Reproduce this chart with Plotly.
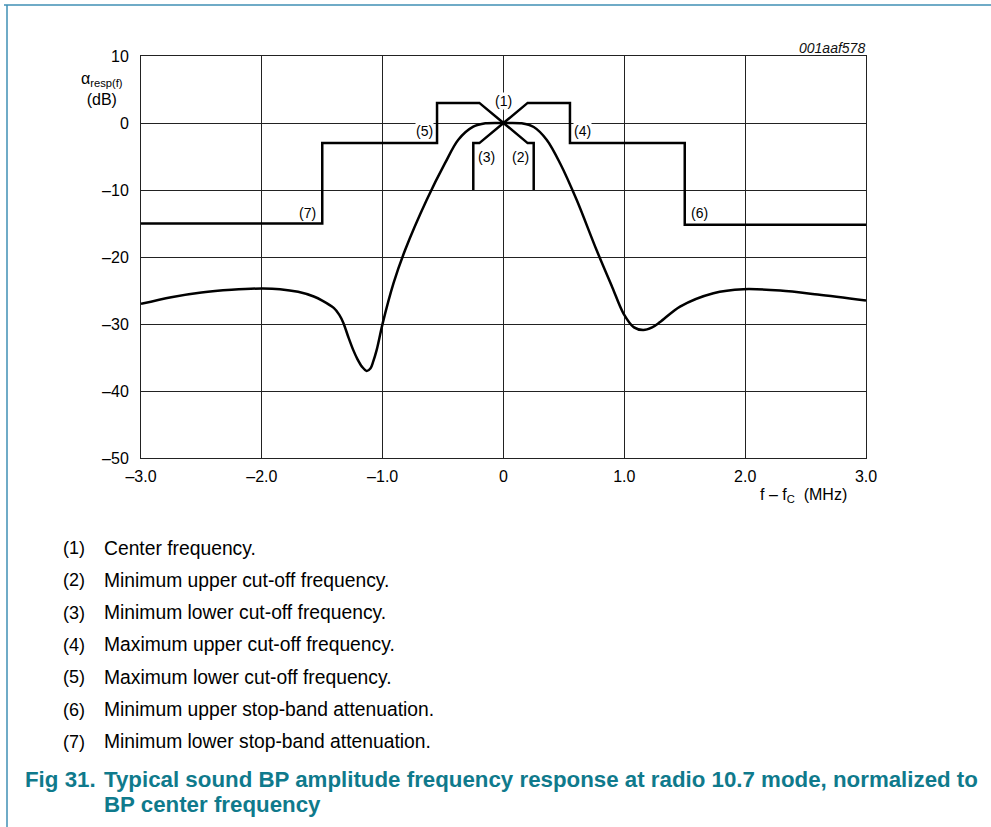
import plotly.graph_objects as go

# ---- data ----
resp_f = [-3.0, -2.75, -2.5, -2.25, -2.0, -1.85, -1.7, -1.57, -1.5, -1.405, -1.36, -1.326,
          -1.285, -1.243, -1.21, -1.17, -1.132, -1.10, -1.08, -1.05, -1.02, -1.0, -0.91,
          -0.815, -0.636, -0.484, -0.374, -0.25, -0.15, 0.0, 0.15, 0.25, 0.357, 0.468, 0.606,
          0.771, 0.9, 0.992, 1.08, 1.157, 1.23, 1.296, 1.461, 1.737, 1.985, 2.29, 2.6, 3.0]
resp_db = [-27.0, -26.0, -25.3, -24.9, -24.7, -24.8, -25.2, -25.9, -26.5, -27.6, -28.6, -29.8,
           -31.9, -33.9, -35.2, -36.4, -37.0, -36.6, -35.7, -33.9, -31.5, -29.9, -23.9,
           -19.0, -11.5, -6.0, -2.5, -0.55, -0.05, 0.0, -0.05, -0.6, -2.5, -6.0, -11.5,
           -19.0, -24.5, -28.4, -30.5, -30.9, -30.5, -29.7, -27.4, -25.4, -24.8, -25.0, -25.6, -26.5]

maskA_f = [-3.0, -1.5, -1.5, -0.55, -0.55, -0.2, 0.0, 0.2, 0.25, 0.25]
maskA_db = [-15.0, -15.0, -3.0, -3.0, 3.0, 3.0, 0.0, -3.0, -3.0, -10.0]
maskB_f = [3.0, 1.5, 1.5, 0.55, 0.55, 0.2, 0.0, -0.2, -0.25, -0.25]
maskB_db = [-15.2, -15.2, -3.0, -3.0, 3.0, 3.0, 0.0, -3.0, -3.0, -10.0]

x_ticks = [-3, -2, -1, 0, 1, 2, 3]
x_ticktext = ["–3.0", "–2.0", "–1.0", "0", "1.0", "2.0", "3.0"]
y_ticks = [10, 0, -10, -20, -30, -40, -50]
y_ticktext = ["10", "0", "–10", "–20", "–30", "–40", "–50"]

marker_labels = ["(1)", "(2)", "(3)", "(4)", "(5)", "(6)", "(7)"]
marker_f = [0.0, 0.14, -0.14, 0.65, -0.65, 1.62, -1.62]
marker_db = [3.3, -5.0, -5.0, -1.2, -1.2, -13.4, -13.4]

legend_text = ["Center frequency.",
               "Minimum upper cut-off frequency.",
               "Minimum lower cut-off frequency.",
               "Maximum upper cut-off frequency.",
               "Maximum lower cut-off frequency.",
               "Minimum upper stop-band attenuation.",
               "Minimum lower stop-band attenuation."]

FONT = "Arial, Liberation Sans, Helvetica, sans-serif"
TEAL = "#0f7a8c"

fig = go.Figure()
fig.add_trace(go.Scatter(x=maskA_f, y=maskA_db, mode="lines",
                         line=dict(color="black", width=2.5), hoverinfo="skip"))
fig.add_trace(go.Scatter(x=maskB_f, y=maskB_db, mode="lines",
                         line=dict(color="black", width=2.5), hoverinfo="skip"))
fig.add_trace(go.Scatter(x=resp_f, y=resp_db, mode="lines",
                         line=dict(color="black", width=2.5, shape="spline", smoothing=0.9),
                         hoverinfo="skip"))

# plot area pixel geometry
L, R, T, B = 141, 866, 56, 458
W, H = 991, 827

def px(x):
    return (x - L) / (R - L)

def py(y):
    return (B - y) / (B - T)

ann = []
for lab, f, d in zip(marker_labels, marker_f, marker_db):
    ann.append(dict(x=f, y=d, xref="x", yref="y", text=lab, showarrow=False,
                    xanchor="center", yanchor="middle",
                    font=dict(size=14, color="black", family=FONT),
                    bgcolor="white", borderpad=0))

ann.append(dict(x=px(102), y=py(89), xref="paper", yref="paper",
                xanchor="center", yanchor="middle",
                text="α<sub>resp(f)</sub><br>(dB)", showarrow=False, align="center",
                font=dict(size=16, color="black", family=FONT)))
ann.append(dict(x=px(803), y=py(495), xref="paper", yref="paper",
                xanchor="center", yanchor="middle",
                text="f – f<sub>C</sub>  (MHz)", showarrow=False,
                font=dict(size=16, color="black", family=FONT)))
ann.append(dict(x=px(867), y=py(48), xref="paper", yref="paper",
                xanchor="right", yanchor="middle",
                text="<i>001aaf578</i>", showarrow=False,
                font=dict(size=14, color="#111", family=FONT)))

for i, t in enumerate(legend_text):
    yy = 548 + 32.33 * i
    ann.append(dict(x=px(61), y=py(yy), xref="paper", yref="paper",
                    xanchor="left", yanchor="middle",
                    text=marker_labels[i], showarrow=False,
                    font=dict(size=18, color="black", family=FONT)))
    ann.append(dict(x=px(102), y=py(yy), xref="paper", yref="paper",
                    xanchor="left", yanchor="middle",
                    text=t, showarrow=False,
                    font=dict(size=19.3, color="black", family=FONT)))

CAP = 22.3
ann.append(dict(x=px(23), y=py(779), xref="paper", yref="paper",
                xanchor="left", yanchor="middle",
                text="<b>Fig 31.</b>", showarrow=False,
                font=dict(size=CAP, color=TEAL, family=FONT)))
ann.append(dict(x=px(102), y=py(779), xref="paper", yref="paper",
                xanchor="left", yanchor="middle",
                text="<b>Typical sound BP amplitude frequency response at radio 10.7 mode, normalized to</b>",
                showarrow=False, font=dict(size=CAP, color=TEAL, family=FONT)))
ann.append(dict(x=px(102), y=py(804), xref="paper", yref="paper",
                xanchor="left", yanchor="middle",
                text="<b>BP center frequency</b>", showarrow=False,
                font=dict(size=CAP, color=TEAL, family=FONT)))

shapes = [
    dict(type="line", xref="paper", yref="paper", x0=px(4), x1=px(991), y0=py(5), y1=py(5),
         line=dict(color="#3f8fb5", width=1.5)),
    dict(type="line", xref="paper", yref="paper", x0=px(7), x1=px(7), y0=py(5), y1=py(827),
         line=dict(color="#3f8fb5", width=1.5)),
]

fig.update_layout(
    width=W, height=H,
    margin=dict(l=L, r=W - R, t=T, b=H - B, pad=0),
    paper_bgcolor="white", plot_bgcolor="white",
    showlegend=False,
    font=dict(family=FONT, color="black", size=16),
    annotations=ann, shapes=shapes,
    xaxis=dict(range=[-3, 3], tickvals=x_ticks, ticktext=x_ticktext,
               showgrid=True, gridcolor="#222", gridwidth=1,
               showline=True, linecolor="#222", linewidth=1, mirror=True,
               zeroline=False, ticks="", ticklabelstandoff=4,
               tickfont=dict(size=16, family=FONT)),
    yaxis=dict(range=[-50, 10], tickvals=y_ticks, ticktext=y_ticktext,
               showgrid=True, gridcolor="#222", gridwidth=1,
               showline=True, linecolor="#222", linewidth=1, mirror=True,
               zeroline=False, ticks="", ticklabelstandoff=8,
               tickfont=dict(size=16, family=FONT)),
)

fig.write_html("out.html", config={"displayModeBar": False},
               post_script="document.body.style.margin='0px';")
